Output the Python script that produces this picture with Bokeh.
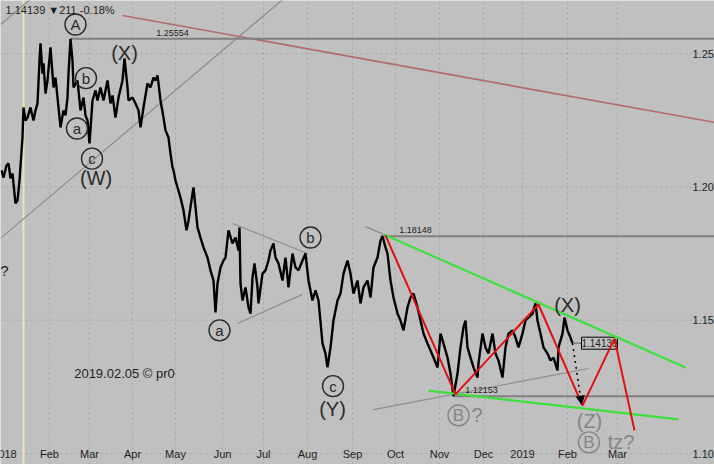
from bokeh.plotting import figure
from bokeh.models import ColumnDataSource, Arrow, NormalHead
from bokeh.core.properties import value
from bokeh.embed import file_html
from bokeh.resources import INLINE

# ---------------- data (x = bar number, y = EURUSD price) ----------------
bars = [0.5, 1.5, 3, 4, 5, 6, 7.5, 8.5, 9.5, 11, 11.5, 12.5, 13.5, 15, 16.5, 17.5, 18.5, 19.5, 20, 21,
        21.5, 22.5, 23.5, 25, 26.5, 27.5, 29, 30, 31.5, 32.5, 33.5, 34, 35, 36, 36.5, 38.5, 40, 41.5, 42.5, 43.5,
        44.5, 46, 47.5, 48.5, 50, 51.5, 53.5, 55, 56, 57.5, 59, 61, 62, 63.5, 64, 66, 67.5, 69, 70, 71.5,
        73.5, 75,
        76.5, 77.5, 78.5, 79, 80, 81.5, 82.5, 84, 85, 86, 86.5, 87.5, 88.5, 90, 91.5, 93, 94, 96, 96.5, 97.5,
        98.5, 100, 101.5, 103.5, 105, 106.5, 107.5, 108.5, 110, 111.5, 112.5, 114, 116, 117.5, 119, 119.5, 120, 121,
        122.5, 124, 125, 126, 127, 128.5, 129, 131, 132.5, 134, 135, 136.5, 137.5, 139, 141, 142.5, 144, 146, 147.5,
        149, 151, 152.5, 154, 156, 157.5, 159, 161, 162.5, 163.5, 165, 166.5, 168.5, 170, 171.5, 173.5, 175, 176.5,
        178.5, 180, 181.5, 183.5, 185, 186.5, 188.5, 190, 191, 192.5, 193.5, 195, 196.5, 198.5, 200, 201.5, 203.5,
        205, 206.5, 208.5, 210, 211.5, 213.5, 215, 216.5, 218.5, 220, 221.5,
        223.5, 225, 226.5, 228.5, 230, 231.5, 232.5, 233.5, 235, 236.5, 238.5, 239, 241, 242.5, 244, 246, 247.5,
        249, 251, 252.5, 254, 256, 257.5, 259, 261, 262.5, 264, 266, 267.5, 268.5, 270, 271.5, 273.5, 275, 276.5,
        278.5, 279, 281, 282, 283.5, 285, 286]
prices = [1.2062, 1.2035, 1.2080, 1.2088, 1.2032, 1.2050, 1.1938, 1.1949, 1.2024, 1.2185,
          1.2298, 1.2249, 1.2260, 1.2298, 1.2249, 1.2287, 1.2313, 1.2474, 1.2538, 1.2425,
          1.2463, 1.2350, 1.2399, 1.2523, 1.2373, 1.2410, 1.2298, 1.2223, 1.2287, 1.2268,
          1.2335, 1.2425, 1.2555, 1.2474, 1.2373, 1.2399, 1.2287, 1.2335, 1.2268, 1.2249,
          1.2163, 1.2324, 1.2362, 1.2324, 1.2373, 1.2324, 1.2399, 1.2313, 1.2343, 1.2260,
          1.2335, 1.2399, 1.2482, 1.2373, 1.2324, 1.2335, 1.2313, 1.2287, 1.2223, 1.2298,
          1.2388, 1.2373,
          1.2410, 1.2399, 1.2418, 1.2388, 1.2324, 1.2260, 1.2212, 1.2185, 1.2125, 1.2073,
          1.2062, 1.2024, 1.1998, 1.1960, 1.1912, 1.1837, 1.1874, 1.1975, 1.1998, 1.1923,
          1.1848, 1.1810, 1.1773, 1.1735, 1.1687, 1.1649, 1.1529, 1.1638, 1.1698, 1.1724,
          1.1735, 1.1837, 1.1788, 1.1810, 1.1762, 1.1848, 1.1638, 1.1574, 1.1623, 1.1548,
          1.1525, 1.1660, 1.1713, 1.1623, 1.1563, 1.1675, 1.1687, 1.1724, 1.1762, 1.1788,
          1.1735, 1.1713, 1.1649, 1.1735, 1.1623, 1.1750, 1.1698,
          1.1687, 1.1724, 1.1750, 1.1649, 1.1574, 1.1612, 1.1574, 1.1413, 1.1375, 1.1323,
          1.1398, 1.1499, 1.1574, 1.1600, 1.1675, 1.1724, 1.1675, 1.1600, 1.1649, 1.1563,
          1.1623, 1.1649, 1.1585, 1.1698, 1.1735, 1.1799, 1.1815, 1.1773, 1.1750, 1.1649,
          1.1585, 1.1525, 1.1499, 1.1462, 1.1548, 1.1585, 1.1600, 1.1548, 1.1499, 1.1450,
          1.1413, 1.1387, 1.1360, 1.1323, 1.1450, 1.1413,
          1.1360, 1.1300, 1.1215, 1.1300, 1.1398, 1.1473, 1.1499, 1.1398, 1.1360, 1.1323,
          1.1285, 1.1338, 1.1450, 1.1398, 1.1375, 1.1450, 1.1375, 1.1349, 1.1285, 1.1398,
          1.1450, 1.1462, 1.1435, 1.1398, 1.1450, 1.1499, 1.1510, 1.1525, 1.1563, 1.1499,
          1.1450, 1.1398, 1.1375, 1.1349, 1.1360, 1.1312, 1.1398, 1.1450, 1.1510, 1.1462,
          1.1435, 1.1414]

month_labels = ["2018", "Feb", "Mar", "Apr", "May", "Jun", "Jul", "Aug", "Sep", "Oct",
                "Nov", "Dec", "2019", "Feb", "Mar"]
month_bars = [2, 24.5, 44.5, 66, 87.5, 111, 131.5, 153.5, 176, 197.5, 219.5, 241.5, 261, 283.5, 308.5]
price_ticks = [1.25, 1.20, 1.15, 1.10]
price_tick_labels = ["1.25", "1.20", "1.15", "1.10"]

# horizontal levels (start bar, price, label)
level_start = [35, 190, 227]
level_price = [1.25554, 1.18148, 1.12153]
level_text = ["1.25554", "1.18148", "1.12153"]
level_text_bar = [86, 207.5, 240.5]

# Elliott-wave zigzag (red) and forecast
zig_bars = [192.5, 227.5, 269, 291, 307, 317]
zig_prices = [1.1818, 1.1222, 1.1559, 1.1180, 1.1431, 1.1087]

# trend lines: x0, y0, x1, y1
green_x0 = [191.5, 214]
green_y0 = [1.1822, 1.1236]
green_x1 = [342.5, 339]
green_y1 = [1.1323, 1.1128]

grey_x0 = [0, 0, 116, 118.5, 186.5, 182.5]
grey_y0 = [1.1807, 1.2609, 1.1863, 1.1488, 1.1165, 1.1851]
grey_x1 = [150, 15, 153.5, 151, 294, 191.5]
grey_y1 = [1.2759, 1.2704, 1.1750, 1.1597, 1.1319, 1.1822]

brown_x = [61, 357]
brown_y = [1.2643, 1.2242]

# wave labels
circ_letters = ["A", "b", "a", "c", "b", "a", "c"]
circ_bars = [37.5, 42.75, 38.25, 45.75, 155, 109.5, 166.25]
circ_prices = [1.2609, 1.2408, 1.2219, 1.2106, 1.1810, 1.1462, 1.1253]

paren_labels = ["(X)", "(W)", "(Y)", "(X)"]
paren_bars = [62, 47.75, 166, 283.5]
paren_prices = [1.2504, 1.2035, 1.1169, 1.1559]

grey_circ_letters = ["B", "B"]
grey_circ_bars = [229, 294.25]
grey_circ_prices = [1.1143, 1.1042]

grey_text = ["?", "(Z)", "tz?"]
grey_text_bars = [238.25, 294.5, 310.25]
grey_text_prices = [1.1143, 1.1124, 1.1042]

last_price = 1.14139
last_bar = 286

# ---------------- figure ----------------
BG = "#c0c0c0"
X0, X1 = 0, 357
Y0, Y1 = 1.0959, 1.2699
FONT = value("Liberation Sans")

p = figure(width=714, height=464, x_range=(X0, X1), y_range=(Y0, Y1),
           output_backend="svg", toolbar_location=None, min_border=0,
           background_fill_color=BG, border_fill_color=BG, outline_line_color=None)
p.xaxis.visible = False
p.yaxis.visible = False
p.xgrid.visible = False
p.ygrid.visible = False

n = len(month_bars)
p.segment(x0=month_bars[1:], y0=[Y0] * (n - 1), x1=month_bars[1:], y1=[Y1] * (n - 1),
          line_color="#a6a6a6", line_dash="2 3", line_width=1)
m = len(price_ticks)
p.segment(x0=[X0] * m, y0=price_ticks, x1=[X1] * m, y1=price_ticks,
          line_color="#a6a6a6", line_dash="2 3", line_width=1)

# pale yellow separator
p.segment(x0=[11.5], y0=[Y0], x1=[11.5], y1=[Y1], line_color="#ebe5b0", line_width=2)

# grey trend lines
p.segment(x0=grey_x0, y0=grey_y0, x1=grey_x1, y1=grey_y1, line_color="#8c8c8c", line_width=1.2)

# brown long line
p.line(brown_x, brown_y, line_color="#b46a6a", line_width=1.6)

# horizontal levels
p.segment(x0=level_start, y0=level_price, x1=[X1] * 3, y1=level_price, line_color="#808080", line_width=2)
p.text(x=level_text_bar, y=[v + 0.0012 for v in level_price], text=level_text, text_font=FONT,
       text_font_size="9px", text_align="center", text_baseline="bottom", text_color="#202020")

# price
p.line(bars, prices, line_color="black", line_width=2.4)

# last price box
p.segment(x0=[last_bar + 0.5], y0=[last_price], x1=[last_bar + 4.5], y1=[last_price],
          line_color="#808080", line_width=1.5)
p.rect(x=[last_bar + 13.5], y=[last_price], width=36, height=12, width_units="screen",
       height_units="screen", fill_color=BG, line_color="black", line_width=1)
p.text(x=[last_bar + 13.5], y=[last_price], text=["1.14139"], text_font=FONT, text_font_size="10px",
       text_align="center", text_baseline="middle", text_color="#202020")

# green channel
p.segment(x0=green_x0, y0=green_y0, x1=green_x1, y1=green_y1, line_color="#3ce03c", line_width=2.2)

# red zigzag
p.line(zig_bars, zig_prices, line_color="#e01010", line_width=2)

# dotted arrow
p.add_layout(Arrow(end=NormalHead(size=8, fill_color="black", line_color="black"),
                   x_start=last_bar, y_start=last_price, x_end=zig_bars[3] - 0.5, y_end=zig_prices[3] + 0.0005,
                   line_color="black", line_dash="dotted", line_width=1.5))

# circled wave labels
p.scatter(circ_bars, circ_prices, marker="circle", size=21, fill_color=None,
          line_color="#2a2a2a", line_width=1.4)
p.text(x=circ_bars, y=circ_prices, text=circ_letters, text_font=FONT, text_font_size="15px",
       text_align="center", text_baseline="middle", text_color="#2a2a2a")
p.text(x=paren_bars, y=paren_prices, text=paren_labels, text_font=FONT, text_font_size="20px",
       text_align="center", text_baseline="middle", text_color="#2a2a2a")

p.scatter(grey_circ_bars, grey_circ_prices, marker="circle", size=21, fill_color=None,
          line_color="#858585", line_width=1.4)
p.text(x=grey_circ_bars, y=grey_circ_prices, text=grey_circ_letters, text_font=FONT,
       text_font_size="17px", text_align="center", text_baseline="middle", text_color="#858585")
p.text(x=grey_text_bars, y=grey_text_prices, text=grey_text, text_font=FONT, text_font_size="20px",
       text_align="center", text_baseline="middle", text_color="#858585")

# misc texts
p.text(x=[62], y=[1.1302], text=["2019.02.05 © pr0"], text_font=FONT, text_font_size="13px",
       text_align="center", text_baseline="middle", text_color="#1e1e1e")
p.text(x=[2], y=[1.1686], text=["?"], text_font=FONT, text_font_size="15px",
       text_align="center", text_baseline="middle", text_color="#1e1e1e")
p.text(x=[2.5], y=[1.2663], text=["1.14139 \u25bc211 -0.18%"], text_font=FONT, text_font_size="11px",
       text_align="left", text_baseline="middle", text_color="#1e1e1e")

# axis labels drawn inside the chart
p.text(x=month_bars, y=[1.1000] * n, text=month_labels, text_font=FONT, text_font_size="11px",
       text_align="center", text_baseline="middle", text_color="#1e1e1e")
p.text(x=[346] * m, y=price_ticks, text=price_tick_labels, text_font=FONT, text_font_size="11px",
       text_align="left", text_baseline="middle", text_color="#1e1e1e")

open("out.html", "w").write(file_html(p, INLINE))
